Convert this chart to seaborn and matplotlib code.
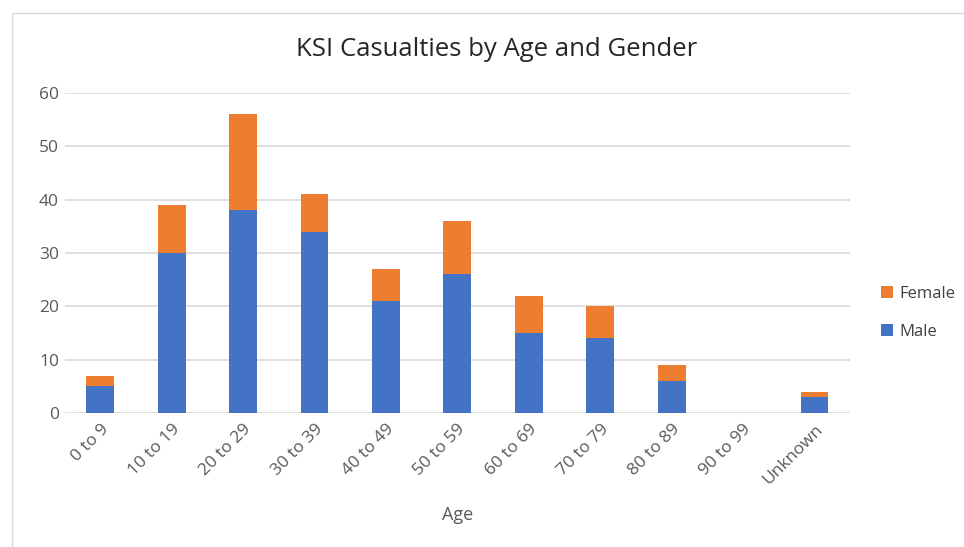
import matplotlib
matplotlib.use("Agg")
import matplotlib.pyplot as plt
import seaborn as sns
import pandas as pd
from matplotlib.patches import Rectangle

age_groups = ["0 to 9", "10 to 19", "20 to 29", "30 to 39", "40 to 49", "50 to 59",
              "60 to 69", "70 to 79", "80 to 89", "90 to 99", "Unknown"]
male = [5, 30, 38, 34, 21, 26, 15, 14, 6, 0, 3]
female = [2, 9, 18, 7, 6, 10, 7, 6, 3, 0, 1]

BLUE = "#4472C4"
ORANGE = "#ED7D31"
TEXT = "#595959"

df = pd.DataFrame({"age": age_groups, "male": male, "female": female})
df["total"] = df["male"] + df["female"]

sns.set_style("white")
plt.rcParams["font.family"] = ["Open Sans", "DejaVu Sans"]

fig = plt.figure(figsize=(9.64, 5.47), dpi=100)
ax = fig.add_axes([0.067, 0.245, 0.815, 0.585])

# stacked: total in orange underneath, male in blue on top of it
sns.barplot(data=df, x="age", y="total", color=ORANGE, width=0.39,
            saturation=1, linewidth=0, label="Female", ax=ax, zorder=3)
sns.barplot(data=df, x="age", y="male", color=BLUE, width=0.39,
            saturation=1, linewidth=0, label="Male", ax=ax, zorder=3)

ax.set_xlim(-0.5, len(age_groups) - 0.5)
ax.set_ylim(0, 60)
ax.set_yticks(range(0, 61, 10))
ax.yaxis.grid(True, color="#D9D9D9", linewidth=1.2, zorder=0)
ax.set_axisbelow(True)
for s in ax.spines.values():
    s.set_visible(False)
ax.tick_params(axis="both", length=0, colors=TEXT, labelsize=12.5)
ax.tick_params(axis="y", pad=4)
ax.tick_params(axis="x", pad=6)
plt.setp(ax.get_xticklabels(), rotation=45, ha="right", rotation_mode="anchor")

ax.set_xlabel("Age", color=TEXT, fontsize=13, labelpad=13)
ax.set_ylabel("")
fig.text(0.515, 0.909, "KSI Casualties by Age and Gender", ha="center", va="center",
         fontsize=18.5, color="#262626")

ax.legend(loc="center left", bbox_to_anchor=(1.02, 0.313), frameon=False,
          fontsize=12, labelcolor="#404040", handlelength=0.75, handleheight=0.75,
          handletextpad=0.35, labelspacing=1.35)

fig.patches.append(Rectangle((12 / 964, -0.01), 1.0, 1 - 13 / 547 + 0.01,
                             transform=fig.transFigure, fill=False,
                             edgecolor="#D9D9D9", linewidth=1))

fig.savefig("out.png", dpi=100)
